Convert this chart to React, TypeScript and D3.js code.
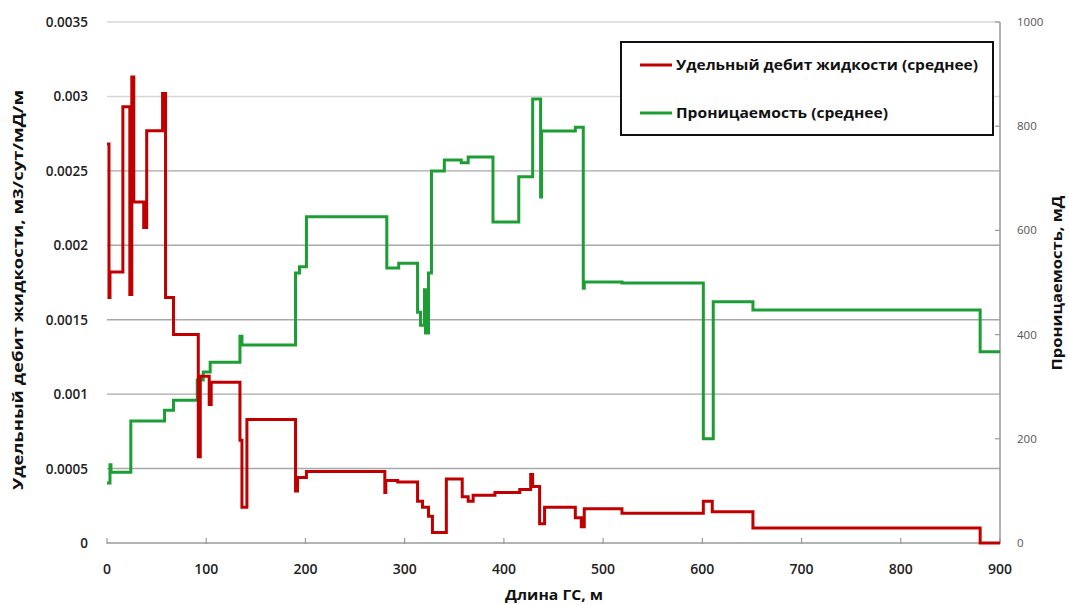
import React from "react";
import * as d3 from "d3";

// Well length positions (m) where the averaged specific liquid rate changes
const rateDepth = [0, 2, 3, 16, 23, 25, 27, 37, 40, 56, 59, 67, 92, 94, 103, 105, 134, 136, 141, 190, 192, 201, 280, 281, 293, 313, 318, 324, 328, 342, 358, 364, 369, 391, 416, 427, 429, 436, 441, 472, 478, 481, 519, 601, 610, 651, 880, 900];
// Specific liquid rate, m3/day/mD/m
const rateValue = [0.00268, 0.00165, 0.00182, 0.00293, 0.00167, 0.00313, 0.00229, 0.00212, 0.00277, 0.00302, 0.00165, 0.0014, 0.00058, 0.00112, 0.00093, 0.00108, 0.00069, 0.00024, 0.00083, 0.00035, 0.00044, 0.00048, 0.00034, 0.00042, 0.00041, 0.00028, 0.00024, 0.00018, 0.00007, 0.00043, 0.00031, 0.00028, 0.00032, 0.00034, 0.00036, 0.00046, 0.00038, 0.00013, 0.00024, 0.00017, 0.00011, 0.00023, 0.0002, 0.00028, 0.00021, 0.0001, 0, 0];

// Well length positions (m) where the averaged permeability changes
const permDepth = [0, 3, 4, 24, 58, 67, 91, 97, 104, 134, 136, 190, 194, 201, 282, 294, 313, 316, 320, 321, 324, 327, 340, 357, 364, 389, 415, 429, 437, 438, 472, 480, 481, 519, 601, 611, 651, 880, 900];
// Permeability, mD
const permValue = [115, 150, 136, 234, 255, 274, 313, 328, 347, 397, 380, 518, 530, 626, 528, 537, 443, 418, 486, 403, 518, 714, 735, 730, 741, 616, 703, 852, 664, 791, 798, 489, 501, 499, 200, 463, 447, 367, 367];

const xTicks = [0, 100, 200, 300, 400, 500, 600, 700, 800, 900];
const leftTicks = [0, 0.0005, 0.001, 0.0015, 0.002, 0.0025, 0.003, 0.0035];
const leftTickLabels = ["0", "0.0005", "0.001", "0.0015", "0.002", "0.0025", "0.003", "0.0035"];
const rightTicks = [0, 200, 400, 600, 800, 1000];

const seriesNames = ["Удельный дебит жидкости (среднее)", "Проницаемость (среднее)"];
const seriesColors = ["#c00000", "#1c9e34"];

const W = 1069;
const H = 605;
const FONT = "'Open Sans', 'DejaVu Sans', sans-serif";

export default function App() {
  const x = d3.scaleLinear().domain([0, 900]).range([107, 1000]);
  const yL = d3.scaleLinear().domain([0, 0.0035]).range([543, 22]);
  const yR = d3.scaleLinear().domain([0, 1000]).range([543, 22]);

  const rateLine = d3
    .line<number>()
    .x((_, i) => x(rateDepth[i]))
    .y((v) => yL(v))
    .curve(d3.curveStepAfter);
  const permLine = d3
    .line<number>()
    .x((_, i) => x(permDepth[i]))
    .y((v) => yR(v))
    .curve(d3.curveStepAfter);

  const [x0, x1] = x.range();

  return (
    <svg
      width={W}
      height={H}
      style={{ position: "absolute", left: 0, top: 0, background: "#fff" }}
      fontFamily={FONT}
    >
      <rect width={W} height={H} fill="#fff" />

      {/* horizontal gridlines at the left-axis ticks */}
      {leftTicks.slice(1).map((t) => (
        <line
          key={t}
          x1={x0}
          x2={x1}
          y1={yL(t)}
          y2={yL(t)}
          stroke={t >= 0.003 ? "#d6d6d6" : "#a8a8a8"}
          strokeWidth={1.4}
        />
      ))}

      {/* x axis */}
      <line x1={x0} x2={x1} y1={yL(0)} y2={yL(0)} stroke="#9a9a9a" strokeWidth={1.5} />
      {xTicks.map((t) => (
        <g key={t}>
          <line x1={x(t)} x2={x(t)} y1={yL(0) - 5} y2={yL(0) + 1} stroke="#9a9a9a" strokeWidth={1.2} />
          <text x={x(t)} y={574} textAnchor="middle" fontSize={14} fontWeight={600} fill="#222">
            {t}
          </text>
        </g>
      ))}

      {/* left axis labels */}
      {leftTicks.map((t, i) => (
        <text key={t} x={88} y={yL(t) + 5} textAnchor="end" fontSize={13.5} fontWeight={600} fill="#222">
          {leftTickLabels[i]}
        </text>
      ))}

      {/* right axis */}
      <line x1={x1} x2={x1} y1={yR(1000)} y2={yR(0)} stroke="#9a9a9a" strokeWidth={1.5} />
      {rightTicks.map((t) => (
        <g key={t}>
          <line x1={x1 - 5} x2={x1} y1={yR(t)} y2={yR(t)} stroke="#9a9a9a" strokeWidth={1.2} />
          <text x={1017} y={yR(t) + 4} fontSize={11.5} fill="#555">
            {t}
          </text>
        </g>
      ))}

      {/* series */}
      <path d={permLine(permValue) ?? ""} fill="none" stroke={seriesColors[1]} strokeWidth={3} strokeLinejoin="miter" />
      <path d={rateLine(rateValue) ?? ""} fill="none" stroke={seriesColors[0]} strokeWidth={3} strokeLinejoin="miter" />

      {/* axis titles */}
      <text
        transform={`translate(23,290) rotate(-90)`}
        textAnchor="middle"
        fontSize={14}
        fontWeight="bold"
        fill="#111"
        textLength={400}
        lengthAdjust="spacingAndGlyphs"
      >
        Удельный дебит жидкости, м3/сут/мД/м
      </text>
      <text
        transform={`translate(1062,283) rotate(-90)`}
        textAnchor="middle"
        fontSize={14}
        fontWeight="bold"
        fill="#111"
        textLength={175}
        lengthAdjust="spacingAndGlyphs"
      >
        Проницаемость, мД
      </text>
      <text
        x={554}
        y={600}
        textAnchor="middle"
        fontSize={14}
        fontWeight="bold"
        fill="#111"
        textLength={98}
        lengthAdjust="spacingAndGlyphs"
      >
        Длина ГС, м
      </text>

      {/* legend */}
      <rect x={621} y={42} width={372} height={93} fill="#fff" stroke="#111" strokeWidth={2} />
      {seriesNames.map((name, i) => (
        <g key={name}>
          <line x1={640} x2={672} y1={65 + i * 48} y2={65 + i * 48} stroke={seriesColors[i]} strokeWidth={3} />
          <text
            x={676}
            y={65 + i * 48 + 5}
            fontSize={13.5}
            fontWeight="bold"
            fill="#111"
            textLength={i === 0 ? 302 : 212}
            lengthAdjust="spacingAndGlyphs"
          >
            {name}
          </text>
        </g>
      ))}
    </svg>
  );
}
